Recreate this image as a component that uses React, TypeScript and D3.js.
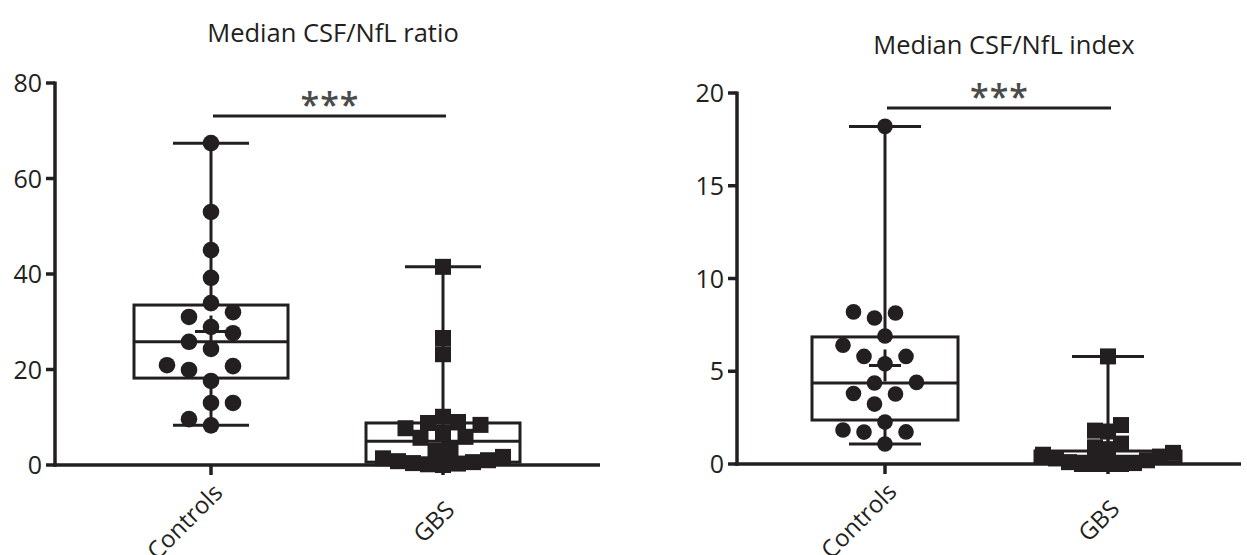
import React, { useLayoutEffect, useRef, useState } from 'react';
import * as d3 from 'd3';

const categories = ['Controls', 'GBS'];

// Panel 1: Median CSF/NfL ratio
const ratioControls = [67.4, 53, 45, 39.2, 33.9, 32, 31, 28.9, 27.6, 25.8, 24.3, 20.9, 20.7, 19.9, 17.6, 13, 13, 9.6, 8.3];
const ratioGBS = [41.5, 26.6, 23.2, 10.1, 9.0, 8.8, 8.4, 7.7, 6.7, 5.9, 5.7, 3.2, 3.0, 1.7, 1.4, 1.0, 0.8, 0.6, 0.4, 0.3, 0.15, 0.0];
// box stats: [min, q1, median, q3, max]
const ratioBoxControls = [8.3, 18.2, 25.8, 33.5, 67.4];
const ratioBoxGBS = [0, 0.6, 5.0, 8.8, 41.5];
const ratioTicks = [0, 20, 40, 60, 80];

// Panel 2: Median CSF/NfL index
const indexControls = [18.2, 8.2, 8.14, 7.87, 6.9, 6.4, 5.8, 5.8, 5.4, 4.4, 4.37, 3.8, 3.77, 3.23, 2.26, 1.83, 1.73, 1.72, 1.08];
const indexGBS = [5.8, 2.1, 1.8, 1.75, 1.1, 0.9, 0.8, 0.6, 0.5, 0.4, 0.3, 0.2, 0.1, 0.05, 0.0, 0.0, 0.0, 0.0];
const indexBoxControls = [1.08, 2.37, 4.37, 6.85, 18.2];
const indexBoxGBS = [0, 0.1, 0.42, 0.7, 5.8];
const indexTicks = [0, 5, 10, 15, 20];

const INK = '#231f20';
const FONT = "'Open Sans', 'Noto Sans', sans-serif";

type PanelCfg = {
  title: string;
  titleX: number;
  titleY: number;
  axisX: [number, number];
  yRange: [number, number];
  catRange: [number, number];
  domain: [number, number];
  ticks: number[];
  groups: number[][];
  boxes: number[][];
  boxHalf: number;
  capHalf: number;
  sigY: number;
  r: number;
  sq: number;
  step: number;
  sqGap: number;
};

function swarm(values: number[], y: (v: number) => number, cx: number, step: number, minDist: number) {
  const order = d3.range(values.length).sort((a, b) => values[a] - values[b]);
  const placed: { x: number; y: number }[] = [];
  const xs: number[] = new Array(values.length);
  for (const i of order) {
    const py = y(values[i]);
    for (let k = 0; k < 400; k++) {
      const m = Math.ceil(k / 2);
      const off = k === 0 ? 0 : (k % 2 === 1 ? -m : m) * step;
      const px = cx + off;
      if (placed.every(p => Math.hypot(p.x - px, p.y - py) >= minDist)) {
        xs[i] = px;
        placed.push({ x: px, y: py });
        break;
      }
    }
  }
  return xs;
}

// Rotated (-45°) category label: right edge at rx, vertical centre of its rotated box at cy
function RotLabel({ text, rx, cy }: { text: string; rx: number; cy: number }) {
  const ref = useRef<SVGTextElement>(null);
  const [tf, setTf] = useState(`translate(${rx},${cy}) rotate(-45)`);
  useLayoutEffect(() => {
    const el = ref.current;
    if (!el) return;
    const b = el.getBBox();
    const c = Math.SQRT1_2;
    const corners = [
      [b.x, b.y],
      [b.x + b.width, b.y],
      [b.x, b.y + b.height],
      [b.x + b.width, b.y + b.height],
    ].map(([px, py]) => [c * px + c * py, -c * px + c * py]);
    const maxX = d3.max(corners, d => d[0])!;
    const minY = d3.min(corners, d => d[1])!;
    const maxY = d3.max(corners, d => d[1])!;
    setTf(`translate(${rx - maxX},${cy - (minY + maxY) / 2}) rotate(-45)`);
  }, [text, rx, cy]);
  return (
    <text ref={ref} transform={tf} textAnchor="end" fontFamily={FONT} fontSize={24} fill={INK}>
      {text}
    </text>
  );
}

function Panel({ cfg }: { cfg: PanelCfg }) {
  const y = d3.scaleLinear().domain(cfg.domain).range(cfg.yRange);
  const x = d3.scalePoint<string>().domain(categories).range(cfg.catRange);
  const y0 = cfg.yRange[0];
  const ax = cfg.axisX[0];
  return (
    <g>
      <text x={cfg.titleX} y={cfg.titleY} textAnchor="middle" fontFamily={FONT} fontSize={25.5} fill={INK}>
        {cfg.title}
      </text>
      {/* boxes */}
      {categories.map((c, gi) => {
        const [mn, q1, md, q3, mx] = cfg.boxes[gi];
        const cx = x(c)!;
        const mean = d3.mean(cfg.groups[gi])!;
        return (
          <g key={c} stroke={INK} strokeWidth={3} fill="none">
            <line x1={cx} x2={cx} y1={y(mx)} y2={y(q3)} />
            <line x1={cx} x2={cx} y1={y(q1)} y2={y(mn)} />
            <line x1={cx - cfg.capHalf} x2={cx + cfg.capHalf} y1={y(mx)} y2={y(mx)} />
            <line x1={cx - cfg.capHalf} x2={cx + cfg.capHalf} y1={y(mn)} y2={y(mn)} />
            <rect x={cx - cfg.boxHalf} width={cfg.boxHalf * 2} y={y(q3)} height={y(q1) - y(q3)} />
            <line x1={cx - cfg.boxHalf} x2={cx + cfg.boxHalf} y1={y(md)} y2={y(md)} />
            <line x1={cx - 16} x2={cx + 16} y1={y(mean)} y2={y(mean)} />
            <line x1={cx} x2={cx} y1={y(mean) - 16} y2={y(mean) + 16} />
          </g>
        );
      })}
      {/* points */}
      {categories.map((c, gi) => {
        const vals = cfg.groups[gi];
        const cx = x(c)!;
        if (gi === 0) {
          const xs = swarm(vals, y, cx, cfg.step, cfg.r * 2 + 3);
          return (
            <g key={c + 'p'} fill={INK}>
              {vals.map((v, i) => (
                <circle key={i} cx={xs[i]} cy={y(v)} r={cfg.r} />
              ))}
            </g>
          );
        }
        const xs = swarm(vals, y, cx, cfg.sqGap / 2, cfg.sqGap);
        return (
          <g key={c + 'p'} fill={INK}>
            {vals.map((v, i) => (
              <rect key={i} x={xs[i] - cfg.sq / 2} y={y(v) - cfg.sq / 2} width={cfg.sq} height={cfg.sq} />
            ))}
          </g>
        );
      })}
      {/* axes */}
      <g stroke={INK} strokeWidth={3.5} fill="none">
        <line x1={ax} x2={ax} y1={y(cfg.domain[1]) - 1.5} y2={y0 + 1.75} />
        <line x1={ax - 1.75} x2={cfg.axisX[1]} y1={y0} y2={y0} />
        {cfg.ticks.map(t => (
          <line key={t} x1={ax - 9} x2={ax} y1={y(t)} y2={y(t)} />
        ))}
        {categories.map(c => (
          <line key={c} x1={x(c)!} x2={x(c)!} y1={y0} y2={y0 + 10} />
        ))}
      </g>
      {cfg.ticks.map(t => (
        <text key={t} x={ax - 13} y={y(t)} dy="0.36em" textAnchor="end" fontFamily={FONT} fontSize={25} fill={INK}>
          {t}
        </text>
      ))}
      {categories.map(c => (
        <RotLabel key={c} text={c} rx={x(c)! + 18} cy={y0 + 56} />
      ))}
      {/* significance */}
      <line x1={x(categories[0])! + 2} x2={x(categories[1])! + 3} y1={cfg.sigY} y2={cfg.sigY} stroke={INK} strokeWidth={3} />
      <text
        x={(x(categories[0])! + x(categories[1])!) / 2 + 3}
        y={cfg.sigY + 1}
        textAnchor="middle"
        fontFamily={FONT}
        fontSize={34}
        fontWeight={600}
        letterSpacing={1}
        fill="#4a4a4a"
      >
        ***
      </text>
    </g>
  );
}

export default function App() {
  const left: PanelCfg = {
    title: 'Median CSF/NfL ratio',
    titleX: 333,
    titleY: 42,
    axisX: [55, 600],
    yRange: [465, 83],
    catRange: [211, 443],
    domain: [0, 80],
    ticks: ratioTicks,
    groups: [ratioControls, ratioGBS],
    boxes: [ratioBoxControls, ratioBoxGBS],
    boxHalf: 77,
    capHalf: 38,
    sigY: 116,
    r: 8.3,
    sq: 16,
    step: 11,
    sqGap: 15,
  };
  const right: PanelCfg = {
    title: 'Median CSF/NfL index',
    titleX: 1004,
    titleY: 54,
    axisX: [737, 1241],
    yRange: [464, 93],
    catRange: [885, 1108],
    domain: [0, 20],
    ticks: indexTicks,
    groups: [indexControls, indexGBS],
    boxes: [indexBoxControls, indexBoxGBS],
    boxHalf: 73,
    capHalf: 36,
    sigY: 108,
    r: 7.8,
    sq: 16,
    step: 10.5,
    sqGap: 13,
  };
  return (
    <svg width={1247} height={555} style={{ position: 'absolute', left: 0, top: 0, background: '#fff' }}>
      <Panel cfg={left} />
      <Panel cfg={right} />
    </svg>
  );
}
